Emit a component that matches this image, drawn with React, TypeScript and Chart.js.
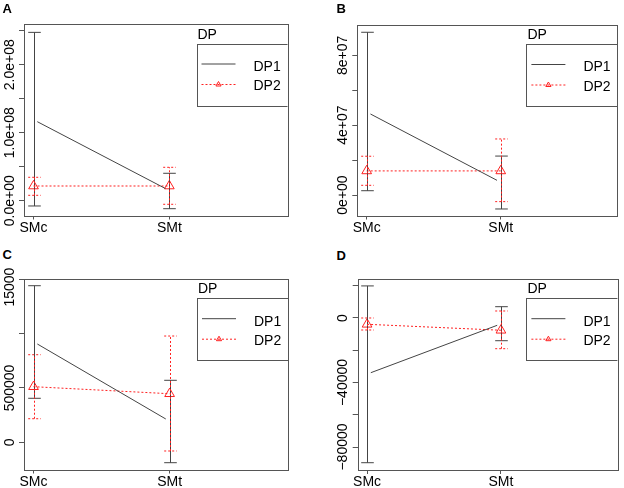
import React, { useEffect, useRef } from "react";
import { Chart, registerables } from "chart.js";

Chart.register(...registerables);

// ---------- data ----------
const categories = ["SMc", "SMt"];
const categoryPositions = [1, 2];
const legendTitle = "DP";
const seriesNames = ["DP1", "DP2"];

// Panel A
const aDp1Mean = [1.162e8, 1.78e7];
const aDp1Upper = [2.476e8, 4.03e7];
const aDp1Lower = [-7.8e6, -1.18e7];
const aDp2Mean = [2.16e7, 2.16e7];
const aDp2Upper = [3.44e7, 4.91e7];
const aDp2Lower = [7.9e6, -5.3e6];
const aTickValues = [0, 5e7, 1e8, 1.5e8, 2e8, 2.5e8];
const aTickLabels = ["0.0e+00", "", "1.0e+08", "", "2.0e+08", ""];
const aYRange = [-2.18e7, 2.599e8];

// Panel B
const bDp1Mean = [4.64e7, 8.4e6];
const bDp1Upper = [9.32e7, 2.23e7];
const bDp1Lower = [2.46e6, -8.0e6];
const bDp2Mean = [1.38e7, 1.38e7];
const bDp2Upper = [2.22e7, 3.21e7];
const bDp2Lower = [5.55e6, -3.8e6];
const bTickValues = [0, 2e7, 4e7, 6e7, 8e7];
const bTickLabels = ["0e+00", "", "4e+07", "", "8e+07"];
const bYRange = [-1.174e7, 9.765e7];

// Panel C
const cDp1Mean = [904600, 214400];
const cDp1Upper = [1441000, 570500];
const cDp1Lower = [405000, -187700];
const cDp2Mean = [511700, 447000];
const cDp2Upper = [806000, 978000];
const cDp2Lower = [217000, -80000];
const cTickValues = [0, 500000, 1000000, 1500000];
const cTickLabels = ["0", "500000", "", "1500000"];
const cYRange = [-250300, 1505500];

// Panel D
const dDp1Mean = [-33920, -4530];
const dDp1Upper = [19900, 7010];
const dDp1Lower = [-89740, -14080];
const dDp2Mean = [-3900, -7600];
const dDp2Upper = [0, 4340];
const dDp2Lower = [-7440, -19040];
const dTickValues = [-80000, -60000, -40000, -20000, 0, 20000];
const dTickLabels = ["\u221280000", "", "\u221240000", "", "0", ""];
const dYRange = [-94260, 24370];

const xRange = [0.93, 2.87];
const DP1_INSET = 0.028;

// ---------- styles ----------
const FONT = '"Liberation Sans", Arial, Helvetica, sans-serif';
const DARK = "#444";
const BOX = "#555";
const RED = "#ff2020";
const CAP = 6.3;

type Panel = {
  letter: string;
  letterPos: { left: number; top: number };
  canvas: { left: number; top: number; width: number; height: number };
  area: { left: number; top: number; right: number; bottom: number };
  yRange: number[];
  tickValues: number[];
  tickLabels: string[];
  dp1Mean: number[];
  dp1Upper: number[];
  dp1Lower: number[];
  dp2Mean: number[];
  dp2Upper: number[];
  dp2Lower: number[];
};

const panels: Panel[] = [
  {
    letter: "A",
    letterPos: { left: 2.5, top: 2 },
    canvas: { left: 0, top: 0, width: 312, height: 240 },
    area: { left: 24, top: 24, right: 287.5, bottom: 215.5 },
    yRange: aYRange,
    tickValues: aTickValues,
    tickLabels: aTickLabels,
    dp1Mean: aDp1Mean,
    dp1Upper: aDp1Upper,
    dp1Lower: aDp1Lower,
    dp2Mean: aDp2Mean,
    dp2Upper: aDp2Upper,
    dp2Lower: aDp2Lower,
  },
  {
    letter: "B",
    letterPos: { left: 336.5, top: 2 },
    canvas: { left: 312, top: 0, width: 312, height: 240 },
    area: { left: 45.3, top: 24.5, right: 308.7, bottom: 215.5 },
    yRange: bYRange,
    tickValues: bTickValues,
    tickLabels: bTickLabels,
    dp1Mean: bDp1Mean,
    dp1Upper: bDp1Upper,
    dp1Lower: bDp1Lower,
    dp2Mean: bDp2Mean,
    dp2Upper: bDp2Upper,
    dp2Lower: bDp2Lower,
  },
  {
    letter: "C",
    letterPos: { left: 2.5, top: 247.8 },
    canvas: { left: 0, top: 268, width: 312, height: 220 },
    area: { left: 24, top: 10.7, right: 288, bottom: 201.5 },
    yRange: cYRange,
    tickValues: cTickValues,
    tickLabels: cTickLabels,
    dp1Mean: cDp1Mean,
    dp1Upper: cDp1Upper,
    dp1Lower: cDp1Lower,
    dp2Mean: cDp2Mean,
    dp2Upper: cDp2Upper,
    dp2Lower: cDp2Lower,
  },
  {
    letter: "D",
    letterPos: { left: 336.5, top: 248.5 },
    canvas: { left: 312, top: 268, width: 312, height: 220 },
    area: { left: 45.7, top: 10.7, right: 309.3, bottom: 202 },
    yRange: dYRange,
    tickValues: dTickValues,
    tickLabels: dTickLabels,
    dp1Mean: dDp1Mean,
    dp1Upper: dDp1Upper,
    dp1Lower: dDp1Lower,
    dp2Mean: dDp2Mean,
    dp2Upper: dDp2Upper,
    dp2Lower: dDp2Lower,
  },
];

function drawTriangle(ctx: CanvasRenderingContext2D, x: number, y: number, r: number) {
  const xc = (r * Math.sqrt(3)) / 2;
  ctx.beginPath();
  ctx.moveTo(x, y - r);
  ctx.lineTo(x + xc, y + r / 2);
  ctx.lineTo(x - xc, y + r / 2);
  ctx.closePath();
  ctx.stroke();
}

const rPlotPlugin = {
  id: "rPlot",
  afterDatasetsDraw(chart: any, _args: any, opts: any) {
    const p: Panel = opts.panel;
    const xs = chart.scales.x;
    const ys = chart.scales.y;
    const ctx: CanvasRenderingContext2D = chart.ctx;
    const bars = (lower: number[], upper: number[], color: string, dash: number[]) => {
      ctx.save();
      ctx.strokeStyle = color;
      ctx.lineWidth = 1;
      ctx.setLineDash(dash);
      categoryPositions.forEach((cx, i) => {
        const x = Math.round(xs.getPixelForValue(cx)) + 0.5;
        const y1 = ys.getPixelForValue(lower[i]);
        const y2 = ys.getPixelForValue(upper[i]);
        ctx.beginPath();
        ctx.moveTo(x, y1);
        ctx.lineTo(x, y2);
        ctx.stroke();
        ctx.beginPath();
        ctx.moveTo(x - CAP, y1);
        ctx.lineTo(x + CAP, y1);
        ctx.moveTo(x - CAP, y2);
        ctx.lineTo(x + CAP, y2);
        ctx.stroke();
      });
      ctx.restore();
    };
    bars(p.dp1Lower, p.dp1Upper, DARK, []);
    bars(p.dp2Lower, p.dp2Upper, RED, [2, 2]);
  },
  afterDraw(chart: any, _args: any, opts: any) {
    const p: Panel = opts.panel;
    const ctx: CanvasRenderingContext2D = chart.ctx;
    const a = chart.chartArea;
    const ys = chart.scales.y;

    // legend
    ctx.save();
    ctx.beginPath();
    ctx.rect(a.left, a.top, a.right - a.left, a.bottom - a.top);
    ctx.clip();
    const lx = a.right - 91;
    const ty = a.top + 19.5;
    const by = a.top + 81.5;
    ctx.fillStyle = "#fff";
    ctx.fillRect(lx, ty, a.right - lx + 20, by - ty);
    ctx.strokeStyle = BOX;
    ctx.lineWidth = 1;
    ctx.strokeRect(Math.round(lx) + 0.5, Math.round(ty) + 0.5, a.right - lx + 20, Math.round(by - ty));
    ctx.fillStyle = "#000";
    ctx.font = `14px ${FONT}`;
    ctx.textAlign = "left";
    ctx.textBaseline = "alphabetic";
    ctx.fillText(legendTitle, lx + 1, ty - 5);
    // DP1
    const r1 = ty + 20.5;
    ctx.strokeStyle = DARK;
    ctx.beginPath();
    ctx.moveTo(lx + 5, r1);
    ctx.lineTo(lx + 39, r1);
    ctx.stroke();
    ctx.fillText(seriesNames[0], lx + 57, ty + 27.3);
    // DP2
    const r2 = ty + 41;
    ctx.strokeStyle = RED;
    ctx.setLineDash([2, 2]);
    ctx.beginPath();
    ctx.moveTo(lx + 5, r2);
    ctx.lineTo(lx + 39, r2);
    ctx.stroke();
    ctx.setLineDash([]);
    drawTriangle(ctx, lx + 22, r2, 3);
    ctx.fillStyle = "#000";
    ctx.fillText(seriesNames[1], lx + 57, ty + 46.8);
    ctx.restore();

    // plot frame
    ctx.save();
    ctx.strokeStyle = BOX;
    ctx.lineWidth = 1;
    ctx.strokeRect(
      Math.round(a.left) + 0.5,
      Math.round(a.top) + 0.5,
      Math.round(a.right - a.left),
      Math.round(a.bottom - a.top)
    );
    ctx.restore();

    // y tick labels (rotated, R style)
    ctx.save();
    ctx.fillStyle = "#000";
    ctx.font = `14px ${FONT}`;
    ctx.textAlign = "center";
    ctx.textBaseline = "alphabetic";
    p.tickValues.forEach((v, i) => {
      const label = p.tickLabels[i];
      if (!label) return;
      const y = ys.getPixelForValue(v);
      ctx.save();
      ctx.translate(a.left - 10.5, y);
      ctx.rotate(-Math.PI / 2);
      ctx.fillText(label, 0, 0);
      ctx.restore();
    });
    ctx.restore();
  },
};

function PanelChart({ panel }: { panel: Panel }) {
  const ref = useRef<HTMLCanvasElement | null>(null);
  useEffect(() => {
    if (!ref.current) return;
    const { width, height } = panel.canvas;
    const { left, top, right, bottom } = panel.area;
    const chart = new Chart(ref.current, {
      type: "line",
      data: {
        datasets: [
          {
            label: seriesNames[0],
            data: categoryPositions.map((c, i) => ({
              x: c + (i === 0 ? DP1_INSET : -DP1_INSET),
              y: panel.dp1Mean[i],
            })),
            borderColor: DARK,
            borderWidth: 1,
            pointRadius: 0,
            fill: false,
          },
          {
            label: seriesNames[1],
            data: categoryPositions.map((c, i) => ({ x: c, y: panel.dp2Mean[i] })),
            borderColor: RED,
            borderWidth: 1,
            borderDash: [2, 2],
            pointStyle: "triangle",
            pointRadius: 5.6,
            pointBorderColor: RED,
            pointBackgroundColor: "rgba(0,0,0,0)",
            pointBorderWidth: 1,
            fill: false,
          },
        ],
      },
      options: {
        responsive: false,
        animation: false,
        events: [],
        layout: {
          padding: { left: 0, top: top, right: width - right, bottom: 0 },
        },
        plugins: {
          legend: { display: false },
          tooltip: { enabled: false },
          rPlot: { panel },
        } as any,
        scales: {
          x: {
            type: "linear",
            min: xRange[0],
            max: xRange[1],
            afterBuildTicks: (s: any) => {
              s.ticks = categoryPositions.map((v) => ({ value: v }));
            },
            afterFit: (s: any) => {
              s.height = height - bottom;
            },
            ticks: {
              callback: (_v: any, i: number) => categories[i],
              font: { family: FONT, size: 14 },
              color: "#000",
              padding: 0,
              maxRotation: 0,
              autoSkip: false,
            },
            grid: {
              drawOnChartArea: false,
              drawTicks: true,
              tickLength: 4,
              color: BOX,
            },
            border: { display: false },
          },
          y: {
            type: "linear",
            min: panel.yRange[0],
            max: panel.yRange[1],
            afterBuildTicks: (s: any) => {
              s.ticks = panel.tickValues.map((v) => ({ value: v }));
            },
            afterFit: (s: any) => {
              s.width = left;
            },
            ticks: {
              display: false,
              callback: (_v: any, i: number) => panel.tickLabels[i],
            },
            grid: {
              drawOnChartArea: false,
              drawTicks: true,
              tickLength: 5,
              color: BOX,
            },
            border: { display: false },
          },
        },
      },
      plugins: [rPlotPlugin],
    } as any);
    return () => chart.destroy();
  }, [panel]);
  return (
    <canvas
      ref={ref}
      width={panel.canvas.width}
      height={panel.canvas.height}
      style={{
        position: "absolute",
        left: panel.canvas.left,
        top: panel.canvas.top,
        width: panel.canvas.width,
        height: panel.canvas.height,
      }}
    />
  );
}

export default function App() {
  return (
    <div
      style={{
        position: "fixed",
        left: 0,
        top: 0,
        width: 624,
        height: 488,
        background: "#fff",
        overflow: "hidden",
      }}
    >
      {panels.map((p) => (
        <PanelChart key={p.letter} panel={p} />
      ))}
      {panels.map((p) => (
        <div
          key={"l" + p.letter}
          style={{
            position: "absolute",
            left: p.letterPos.left,
            top: p.letterPos.top,
            font: `bold 13px ${FONT}`,
            lineHeight: "13px",
            color: "#000",
          }}
        >
          {p.letter}
        </div>
      ))}
    </div>
  );
}
